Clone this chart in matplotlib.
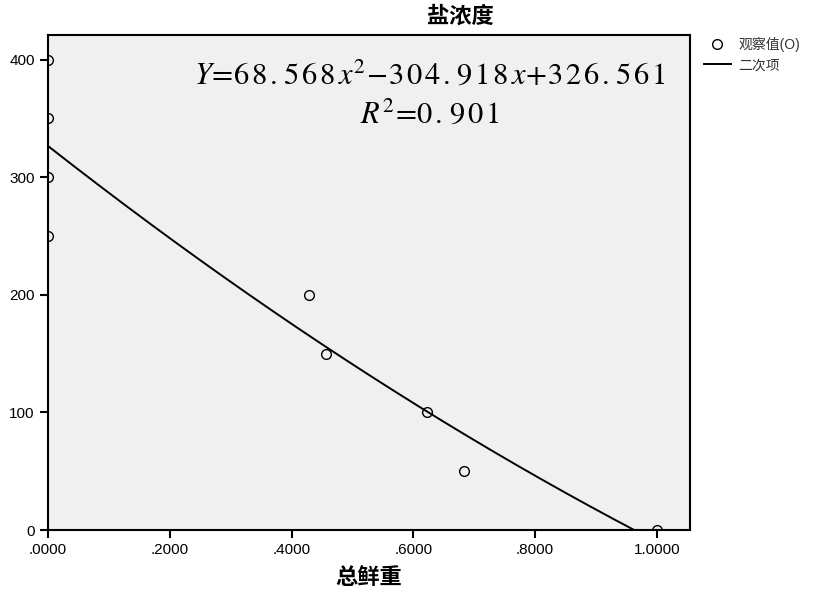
import numpy as np
import matplotlib.pyplot as plt

plt.rcParams['font.family'] = ['Liberation Sans', 'Noto Sans CJK SC']
plt.rcParams['mathtext.fontset'] = 'stix'

# observed values
fresh_weight = [0.0, 0.0, 0.0, 0.0, 0.429, 0.456, 0.622, 0.684, 1.0]
salt_conc = [400, 350, 300, 250, 200, 150, 100, 50, 0]

xticks = [0, 0.2, 0.4, 0.6, 0.8, 1.0]
xticklabels = ['.0000', '.2000', '.4000', '.6000', '.8000', '1.0000']
yticks = [0, 100, 200, 300, 400]

fig = plt.figure(figsize=(8.27, 5.91), dpi=100)
ax = fig.add_axes([0.058, 0.103, 0.776, 0.838])
ax.set_facecolor('#f0f0f0')

# quadratic fit as drawn by SPSS
coef = np.polyfit(fresh_weight, salt_conc, 2)
xs = np.linspace(0, 1.0, 400)
ys = np.polyval(coef, xs)
line, = ax.plot(xs, ys, color='black', lw=1.4, label='二次项')
pts, = ax.plot(fresh_weight, salt_conc, 'o', mfc='none', mec='black', ms=7, mew=1.0,
               label='观察值(O)')

ax.set_xlim(0, 1.054)
ax.set_ylim(0, 421)
ax.set_xticks(xticks)
ax.set_xticklabels(xticklabels, fontsize=11)
ax.set_yticks(yticks)
ax.tick_params(axis='y', labelsize=11)
ax.tick_params(direction='out', length=6, width=1.5, color='black')
for s in ax.spines.values():
    s.set_linewidth(1.5)

# title sits off-centre in the original
fig.text(460 / 827, 1 - 17 / 591, '盐浓度', fontsize=16, fontweight='bold',
         ha='center', va='center')
ax.set_xlabel('总鲜重', fontsize=16, fontweight='bold')
ax.xaxis.set_label_coords(0.5, -0.077)


def spaced(s):
    # widen the glyph spacing like the pasted equation image
    return r'\hspace{0.12}'.join(s)


eq1 = (r'$Y\!=\!' + spaced('68.568') + r'\,x^2\!-\!' + spaced('304.918')
       + r'\,x\!+\!' + spaced('326.561') + '$')
eq2 = r'$R^2\!=\!' + spaced('0.901') + '$'
ax.text(0.595, 0.918, eq1, transform=ax.transAxes, ha='center', va='center', fontsize=22)
ax.text(0.595, 0.838, eq2, transform=ax.transAxes, ha='center', va='center', fontsize=22)

fig.legend(handles=[pts, line], labels=['观察值(O)', '二次项'],
           loc='upper left', bbox_to_anchor=(0.844, 0.947), frameon=False,
           fontsize=10, handlelength=2.0, handletextpad=0.5, labelspacing=0.45,
           borderaxespad=0, labelcolor='#333333')

fig.savefig('out.png', dpi=100)
